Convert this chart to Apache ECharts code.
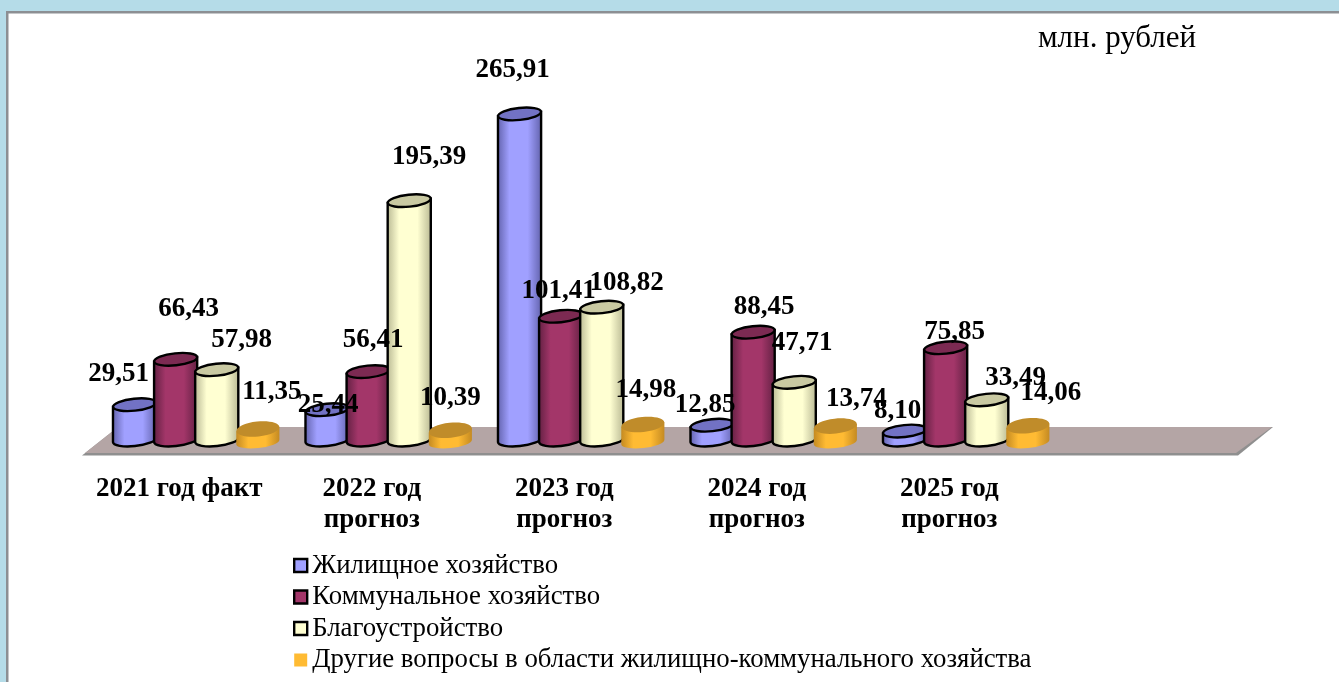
<!DOCTYPE html>
<html><head><meta charset="utf-8">
<style>html,body{margin:0;padding:0;background:#b5dce8;overflow:hidden}#c{width:1339px;height:682px}</style>
<script src="https://cdn.jsdelivr.net/npm/echarts@6/dist/echarts.min.js"></script>
</head><body><div id="c"></div>
<script>
const categories = ['2021 год факт', '2022 год\nпрогноз', '2023 год\nпрогноз', '2024 год\nпрогноз', '2025 год\nпрогноз', ''];
const seriesNames = ['Жилищное хозяйство', 'Коммунальное хозяйство', 'Благоустройство', 'Другие вопросы в области жилищно-коммунального хозяйства'];
const housing = [29.51, 25.44, 265.91, 12.85, 8.10];
const communal = [66.43, 56.41, 101.41, 88.45, 75.85];
const landscaping = [57.98, 195.39, 108.82, 47.71, 33.49];
const other = [11.35, 10.39, 14.98, 13.74, 14.06];
const unitLabel = 'млн. рублей';

// Manual data-label placement (dx, dy from the top of each cylinder), as in the source chart
const labelNudges = [
  [[-16,-31],[1,-5],[-7,-44],[-7,-20],[-7,-20]],
  [[13,-50],[5,-32],[-2,-25],[11,-25],[9,-16]],
  [[25,-30],[20,-44],[25,-24],[8,-39],[29,-22]],
  [[14,-35],[0,-30],[3,-33],[21,-25],[23,-31]]
];
const looks = [
  {edge:'#5f5fa8', mid:'#a0a0ff', top:'#7272c4', line:'#000', lw:2.4},
  {edge:'#5e1f40', mid:'#a33669', top:'#7c2a52', line:'#000', lw:2.4},
  {edge:'#b5b590', mid:'#ffffd2', top:'#c9c9a2', line:'#000', lw:2.4},
  {edge:'#c48a22', mid:'#ffbb33', top:'#c08c2a', line:null, lw:0}
];
const seriesValues = [housing, communal, landscaping, other];

function cylinder(si) {
  return function (params, api) {
    const look = looks[si];
    const band = api.size([1, 0])[0];
    const step = band * 0.2135, r = band * 0.112, ry = 6, tilt = 2.2;
    const top = api.coord([api.value(0), api.value(1)]);
    const base = api.coord([api.value(0), 0]);
    const cx = top[0] + band * 0.088 + (si - 1.5) * step;
    const sink = si === 3 ? 2 : 0;
    const yt = top[1] + sink, yb = base[1] + sink - 1;
    const rotDeg = -6;
    const grad = new echarts.graphic.LinearGradient(0, 0, 1, 0, [
      {offset: 0, color: look.edge}, {offset: 0.28, color: look.mid},
      {offset: 0.68, color: look.mid}, {offset: 1, color: look.edge}
    ]);
    const pathData = 'M' + (cx - r) + ' ' + (yt + tilt) + ' L' + (cx - r) + ' ' + (yb + tilt) +
      ' A' + r + ' ' + ry + ' ' + rotDeg + ' 0 0 ' + (cx + r) + ' ' + (yb - tilt) +
      ' L' + (cx + r) + ' ' + (yt - tilt) + ' Z';
    const lineStyle = look.line ? {stroke: look.line, lineWidth: look.lw} : {stroke: null, lineWidth: 0};
    const n = labelNudges[si][params.dataIndex];
    const text = api.value(1).toFixed(2).replace('.', ',');
    return {type: 'group', children: [
      {type: 'path', z2: 10 + si, shape: {pathData: pathData},
       style: Object.assign({fill: grad}, lineStyle)},
      {type: 'ellipse', z2: 11 + si, rotation: -rotDeg * Math.PI / 180, originX: cx, originY: yt,
       shape: {cx: cx, cy: yt, rx: r, ry: si === 3 ? 7.5 : ry},
       style: Object.assign({fill: look.top}, lineStyle)},
      {type: 'text', z2: 100, x: cx + n[0], y: top[1] + n[1],
       style: {text: text, fill: '#000', align: 'center', verticalAlign: 'middle',
                font: 'bold 27px "Liberation Serif"'}}
    ]};
  };
}

const chart = echarts.init(document.getElementById('c'), null, {renderer: 'canvas', width: 1339, height: 682});
chart.setOption({
  backgroundColor: '#b5dce8',
  animation: false,
  title: {text: unitLabel, left: 1033, top: 18,
          textStyle: {fontFamily: 'Liberation Serif', fontSize: 31, fontWeight: 'normal', color: '#000'}},
  graphic: [
    {type: 'rect', z: -10, shape: {x: 6, y: 11, width: 1340, height: 680}, style: {fill: '#fff', stroke: null}},
    {type: 'rect', z: -9, shape: {x: 6, y: 11, width: 1340, height: 2.5}, style: {fill: '#8c8f93'}},
    {type: 'rect', z: -9, shape: {x: 6, y: 11, width: 2.5, height: 680}, style: {fill: '#8c8f93'}},
    {type: 'polygon', z: -8, shape: {points: [[82, 455.5], [118, 427], [1273, 427], [1238, 455.5]]},
     style: {fill: '#8f8f8f'}},
    {type: 'polygon', z: -7, shape: {points: [[85, 453], [118, 427], [1272, 427], [1236, 453]]},
     style: {fill: '#b4a5a5'}}
  ],
  legend: {
    orient: 'vertical', left: 293, top: 552, padding: 0, itemGap: 4.5, itemWidth: 13, itemHeight: 13,
    height: 130, selectedMode: false,
    textStyle: {fontFamily: 'Liberation Serif', fontSize: 26.8, color: '#000', padding: [0, 0, 0, 0], height: 24.5, lineHeight: 24},
    data: seriesNames.map((name, i) => ({
      name, icon: 'rect',
      itemStyle: {color: looks[i].mid, borderColor: looks[i].line || looks[i].mid, borderWidth: looks[i].lw}
    }))
  },
  grid: {left: 83, width: 1155, top: 72, height: 369},
  xAxis: {type: 'category', data: categories, axisLine: {show: false}, axisTick: {show: false},
    axisLabel: {interval: 0, margin: 33, verticalAlign: 'top', lineHeight: 31,
      fontFamily: 'Liberation Serif', fontWeight: 'bold', fontSize: 27, color: '#000'}},
  yAxis: {type: 'value', min: 0, max: 300, show: false},
  series: seriesValues.map((vals, si) => ({
    name: seriesNames[si], type: 'custom', renderItem: cylinder(si),
    encode: {x: 0, y: 1}, clip: false,
    itemStyle: {color: looks[si].mid},
    data: vals.map((v, i) => [i, v])
  }))
});
</script></body></html>
